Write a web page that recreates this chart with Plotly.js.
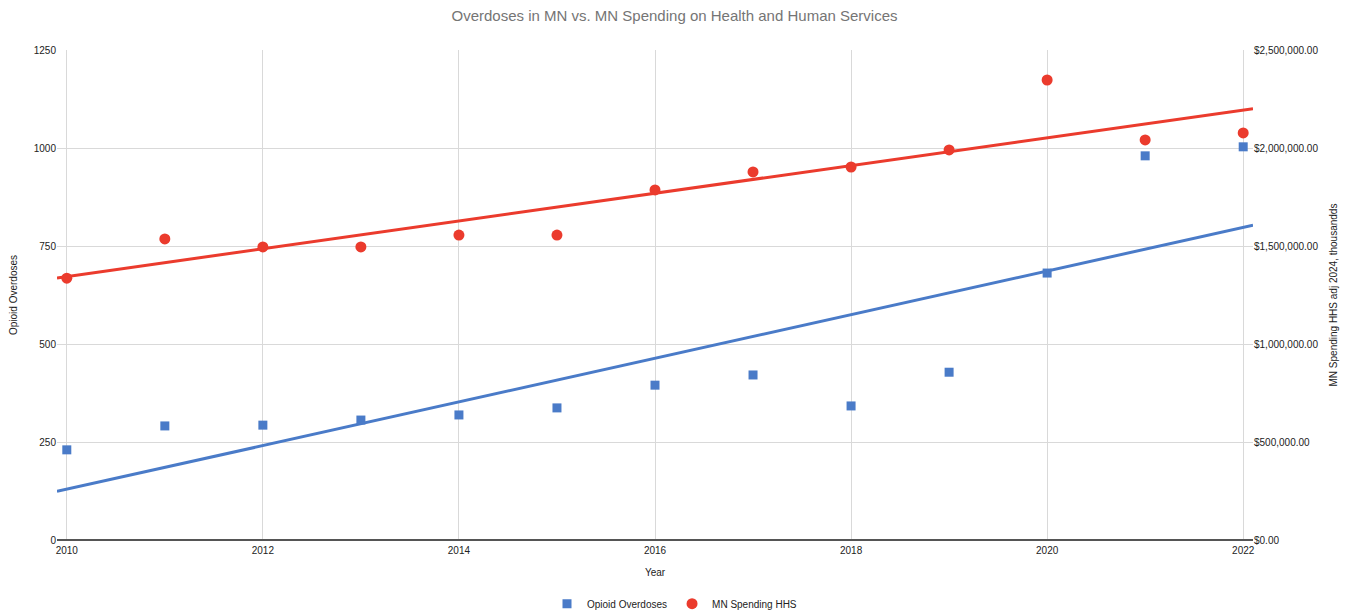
<!DOCTYPE html>
<html>
<head>
<meta charset="utf-8">
<script src="https://cdn.plot.ly/plotly-3.0.1.min.js"></script>
<style>html,body{margin:0;padding:0;background:#fff;}#chart{width:1349px;height:611px;}</style>
</head>
<body>
<div id="chart"></div>
<script>
const years = [2010,2011,2012,2013,2014,2015,2016,2017,2018,2019,2020,2021,2022];
const overdoses = [230,291,293,306,319,337,395,421,342,428,681,980,1003];
const spendingHHS = [1336000,1536000,1495000,1495000,1556000,1556000,1786000,1878000,1903000,1990000,2347000,2041000,2077000];
const xRange = [2009.9, 2022.1];

function fitLine(xs, ys) {
  const n = xs.length;
  const mx = xs.reduce((a,b)=>a+b,0)/n;
  const my = ys.reduce((a,b)=>a+b,0)/n;
  let sxy = 0, sxx = 0;
  for (let i=0;i<n;i++){ sxy += (xs[i]-mx)*(ys[i]-my); sxx += (xs[i]-mx)*(xs[i]-mx); }
  const m = sxy/sxx, b = my - m*mx;
  return xRange.map(x => m*x + b);
}

const blue = '#4a7bc8';
const red = '#eb3b2d';
const font = 'Liberation Sans, Arial, sans-serif';

const traces = [
  {x: xRange, y: fitLine(years, overdoses), mode:'lines', line:{color:blue, width:3}, showlegend:false, hoverinfo:'skip', yaxis:'y'},
  {x: xRange, y: fitLine(years, spendingHHS), mode:'lines', line:{color:red, width:3}, showlegend:false, hoverinfo:'skip', yaxis:'y2'},
  {x: years, y: overdoses, mode:'markers', name:'Opioid Overdoses', marker:{symbol:'square', size:9, color:blue}, yaxis:'y'},
  {x: years, y: spendingHHS, mode:'markers', name:'MN Spending HHS', marker:{symbol:'circle', size:11, color:red}, yaxis:'y2'}
];

const layout = {
  width:1349, height:611,
  margin:{l:57, r:96, t:50, b:71, autoexpand:false},
  paper_bgcolor:'#fff', plot_bgcolor:'#fff',
  font:{family:font, size:10, color:'#222'},
  title:{text:'Overdoses in MN vs. MN Spending on Health and Human Services', font:{family:font, size:15, color:'#757575'}, x:0.5, xanchor:'center', y:0.975, yanchor:'middle'},
  xaxis:{range:xRange, tickvals:[2010,2012,2014,2016,2018,2020,2022], ticks:'outside', ticklen:1, tickcolor:'rgba(0,0,0,0)', showgrid:true, gridcolor:'#d9d9d9', zeroline:false, showline:false, automargin:false,
         title:{text:'Year', font:{size:10, color:'#222'}, standoff:13}, tickfont:{size:10, color:'#222'}},
  yaxis:{range:[0,1250], dtick:250, tick0:0, showgrid:true, gridcolor:'#d9d9d9', zeroline:true, zerolinecolor:'#555', zerolinewidth:1.5, showline:false, ticks:'', automargin:false,
         title:{text:'Opioid Overdoses', font:{size:10, color:'#222'}, standoff:14}, tickfont:{size:10, color:'#222'}},
  yaxis2:{range:[0,2500000], tickvals:[0,500000,1000000,1500000,2000000,2500000], tickformat:'$,.2f', overlaying:'y', side:'right', showgrid:false, zeroline:false, showline:false, ticks:'', automargin:false,
          title:{text:'MN Spending HHS adj 2024, thousandds', font:{size:10, color:'#222'}, standoff:12}, tickfont:{size:10, color:'#222'}},
  legend:{orientation:'h', x:0.5, xanchor:'center', xref:'container', yref:'container', y:0.012, yanchor:'middle', font:{size:10, color:'#222'}, itemwidth:30},
  showlegend:true
};

Plotly.newPlot('chart', traces, layout, {displayModeBar:false, responsive:false});
</script>
</body>
</html>
